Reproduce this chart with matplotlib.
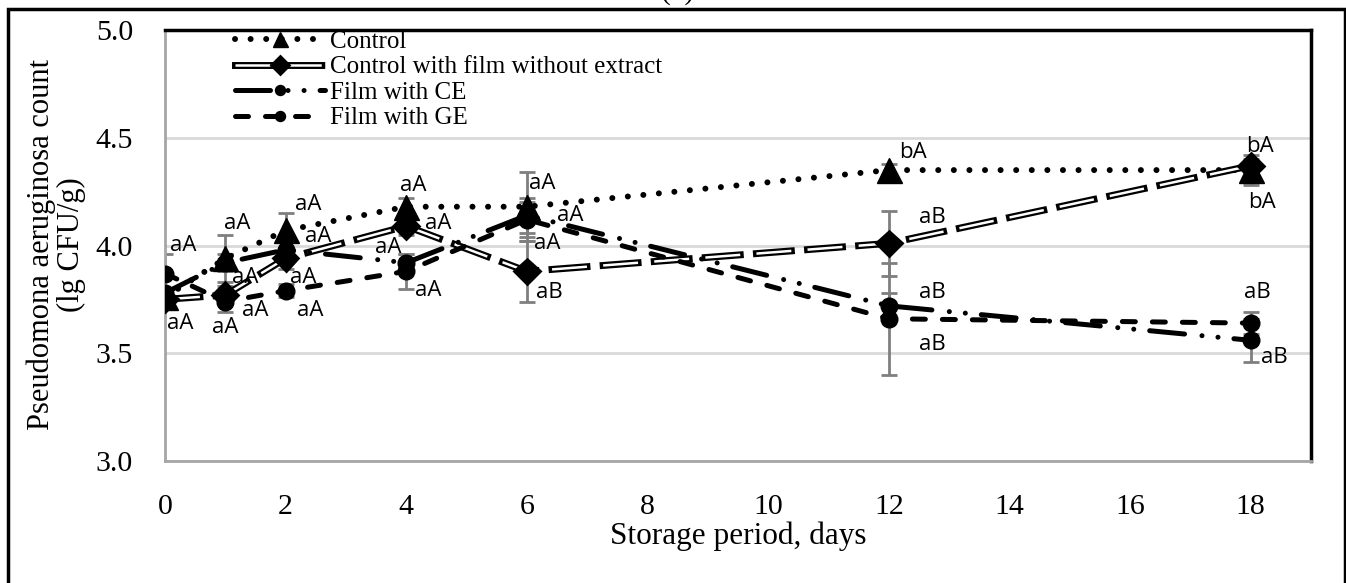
import matplotlib.pyplot as plt
import matplotlib.patheffects as pe
from matplotlib.patches import Rectangle

# storage days and mean counts (lg CFU/g) with error bars
days = [0, 1, 2, 4, 6, 12, 18]
control = [3.76, 3.94, 4.07, 4.18, 4.18, 4.35, 4.35]
control_err = [0.03, 0.11, 0.08, 0.04, 0.16, 0.03, 0.07]
film = [3.75, 3.77, 3.94, 4.09, 3.88, 4.01, 4.37]
film_err = [0.02, 0.04, 0.05, 0.04, 0.14, 0.15, 0.03]
ce = [3.78, 3.92, 3.98, 3.92, 4.14, 3.72, 3.56]
ce_err = [0.02, 0.04, 0.04, 0.04, 0.08, 0.06, 0.10]
ge = [3.87, 3.74, 3.79, 3.88, 4.12, 3.66, 3.64]
ge_err = [0.09, 0.05, 0.03, 0.08, 0.08, 0.26, 0.05]

# significance letters
sig_text = ["aA", "aA", "aA", "aA", "aA", "aA", "aA", "aA", "aA", "aA",
            "aA", "aA", "aA", "aA", "aA", "aA", "aA", "aB",
            "bA", "aB", "aB", "aB", "bA", "bA", "aB", "aB"]
sig_x = [0.30, 0.25, 1.19, 1.33, 1.00, 1.49, 2.37, 2.54, 2.29, 2.40,
         4.11, 4.53, 3.70, 4.36, 6.25, 6.72, 6.33, 6.38,
         12.40, 12.72, 12.72, 12.72, 18.16, 18.19, 18.11, 18.39]
sig_y = [4.00, 3.64, 4.10, 3.85, 3.62, 3.70, 4.19, 4.04, 3.85, 3.70,
         4.28, 4.10, 3.99, 3.79, 4.29, 4.14, 4.01, 3.78,
         4.43, 4.13, 3.78, 3.54, 4.46, 4.20, 3.78, 3.48]

serif = "Liberation Serif"

fig = plt.figure(figsize=(13.46, 5.83), dpi=100)
ax = fig.add_axes([165 / 1346, 1 - 461 / 583, (1311 - 165) / 1346, (461 - 30) / 583])

# error bars
for vals, errs in [(control, control_err), (film, film_err), (ce, ce_err), (ge, ge_err)]:
    ax.errorbar(days, vals, yerr=errs, fmt="none", ecolor="#7f7f7f",
                elinewidth=2, capsize=6, capthick=2, zorder=2)

ax.plot(days, control, color="black", lw=4.3, linestyle=(0, (0.01, 2.6)),
        dash_capstyle="round", marker="^", ms=18, mfc="black", mec="black",
        label="Control", zorder=3)
ax.plot(days, film, color="white", lw=1.8, linestyle=(0, (14, 6.5)),
        marker="D", ms=10, mfc="black", mec="black", mew=1,
        path_effects=[pe.Stroke(linewidth=5, foreground="black", capstyle="projecting"), pe.Normal()],
        label="Control with film without extract", zorder=4)
ax.plot(days, ce, color="black", lw=3.6, linestyle=(0, (7, 3.5, 0.01, 3.2, 0.01, 3.2)),
        dash_capstyle="round", marker="o", ms=12, mfc="black", mec="black",
        label="Film with CE", zorder=5)
ax.plot(days, ge, color="black", lw=3.6, linestyle=(0, (2.6, 3.4)),
        dash_capstyle="round", marker="o", ms=12, mfc="black", mec="black",
        label="Film with GE", zorder=6)

for t, x, y in zip(sig_text, sig_x, sig_y):
    ax.text(x, y, t, ha="center", va="center", fontsize=16, family="Open Sans", zorder=7)

ax.set_xlim(0, 19)
ax.set_ylim(3.0, 5.0)
ax.set_xticks(range(0, 19, 2))
ax.set_yticks([3.0, 3.5, 4.0, 4.5, 5.0])
ax.set_yticklabels(["%.1f" % v for v in [3.0, 3.5, 4.0, 4.5, 5.0]])
ax.tick_params(axis="both", length=0, labelsize=21.5)
ax.tick_params(axis="x", pad=24)
ax.tick_params(axis="y", pad=23)
for lab in ax.get_xticklabels() + ax.get_yticklabels():
    lab.set_family(serif)

ax.yaxis.grid(True, color="#d9d9d9", lw=2)
ax.set_axisbelow(True)
for s in ["left", "bottom"]:
    ax.spines[s].set_color("#a6a6a6")
    ax.spines[s].set_linewidth(2)
for s in ["top", "right"]:
    ax.spines[s].set_color("black")
    ax.spines[s].set_linewidth(2.5)

ax.set_xlabel("Storage period, days", fontsize=22.5, family=serif, labelpad=1)
fig.text(56 / 1346, 1 - 245 / 583, "Pseudomona aeruginosa count\n(lg CFU/g)",
         rotation=90, ha="center", va="center", multialignment="center",
         fontsize=22, family=serif, linespacing=1.05)

leg = ax.legend(loc="upper left", bbox_to_anchor=(0.05, 1.028), frameon=False,
                prop={"family": serif, "size": 18}, handlelength=3.6,
                handletextpad=0.2, labelspacing=0.12, borderpad=0, numpoints=1,
                markerscale=0.6)

# outer frame and cut-off panel title
fig.add_artist(Rectangle((8 / 1346, -0.02), (1345 - 8) / 1346, 1 - 9 / 583 + 0.02,
                         transform=fig.transFigure, fill=False, ec="black", lw=2.5))
fig.text(678 / 1346, 1 - 5 / 583, "(b)", ha="center", va="bottom", fontsize=21, family=serif)

fig.savefig("out.png", dpi=100)
